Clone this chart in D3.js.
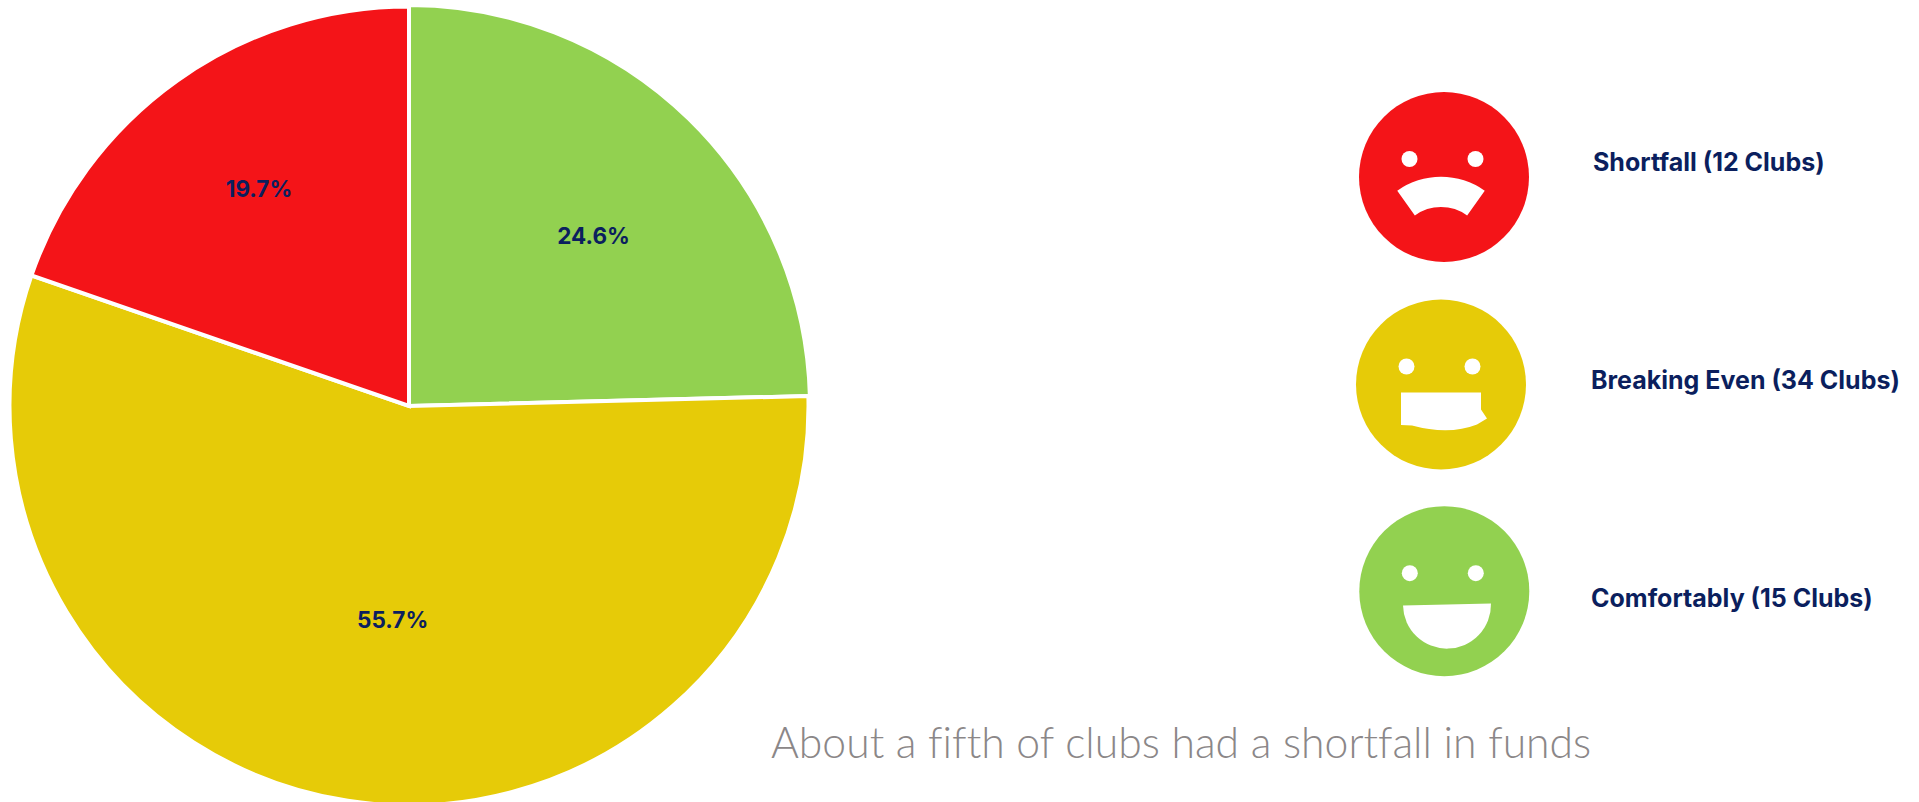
<!DOCTYPE html>
<html>
<head>
<meta charset="utf-8">
<script src="https://cdn.jsdelivr.net/npm/d3@7"></script>
<style>
  html, body { margin: 0; padding: 0; background: #fff; overflow: hidden; }
  svg { display: block; }
  text { font-family: Inter, "Noto Sans", sans-serif; }
</style>
</head>
<body>
<svg id="chart" width="1919" height="802"></svg>
<script>
// Funding status of clubs
const statuses = ["Comfortably", "Breaking Even", "Shortfall"];
const shares = [24.6, 55.7, 19.7];
const clubCounts = [15, 34, 12];
const statusColors = ["#92d150", "#e6cb08", "#f41418"];
const legendOrder = ["Shortfall", "Breaking Even", "Comfortably"];
const headline = "About a fifth of clubs had a shortfall in funds";

const navy = "#0b1f5e";
const svg = d3.select("#chart");

// Pie
const cx = 409, cy = 406;
const sliceRadius = { "Comfortably": 401, "Breaking Even": 399.5, "Shortfall": 399.5 };
const labelNudge = { "Comfortably": [10, 8], "Breaking Even": [22, -34], "Shortfall": [-5, -14] };

const pie = d3.pie().sort(null).value((_, i) => shares[i]);
const arcs = pie(statuses);
const sliceArc = d3.arc().innerRadius(0);
const labelArc = d3.arc().innerRadius(250).outerRadius(250);

const pieGroup = svg.append("g").attr("transform", `translate(${cx},${cy})`);
pieGroup.selectAll("path")
  .data(arcs)
  .join("path")
  .attr("d", d => sliceArc.outerRadius(sliceRadius[d.data])(d))
  .attr("fill", (d, i) => statusColors[i])
  .attr("stroke", "#fff")
  .attr("stroke-width", 4)
  .attr("stroke-linejoin", "miter");

pieGroup.selectAll("text")
  .data(arcs)
  .join("text")
  .attr("transform", d => {
    const [x, y] = labelArc.centroid(d);
    const [dx, dy] = labelNudge[d.data];
    return `translate(${x + dx},${y + dy})`;
  })
  .attr("text-anchor", "middle")
  .attr("dominant-baseline", "central")
  .attr("font-size", 22.5)
  .attr("font-weight", 700)
  .attr("fill", navy)
  .text((d, i) => `${shares[i].toFixed(1)}%`);

// Faces: each mouth is built in face-centred coordinates
const faceLayout = {
  "Shortfall": { x: 1444, y: 177, textX: 1593, textY: 162 },
  "Breaking Even": { x: 1441, y: 384.5, textX: 1591, textY: 380 },
  "Comfortably": { x: 1444.3, y: 591.2, textX: 1591, textY: 597.5 }
};
const eyeShift = -1.5, eyeOffset = 33, eyeRise = 18, eyeRadius = 8;

function mouthPath(status) {
  if (status === "Shortfall") {
    const wedge = 0.62;
    return { d: d3.arc().innerRadius(45).outerRadius(75.3)
      .startAngle(-wedge).endAngle(wedge)(), at: [-3, 75] };
  }
  if (status === "Comfortably") {
    return { d: d3.arc().innerRadius(0).outerRadius(44)
      .startAngle(Math.PI / 2 - 0.02).endAngle(3 * Math.PI / 2 - 0.02)(), at: [2.7, 13.3] };
  }
  // Ragged open mouth of the neutral face
  const p = d3.path();
  p.moveTo(-40, 8);
  p.lineTo(-1, 8);
  p.lineTo(40, 8);
  p.lineTo(40, 25);
  p.lineTo(46, 34);
  p.lineTo(36, 40);
  p.quadraticCurveTo(8, 51, -29, 41);
  p.lineTo(-40, 40.5);
  p.closePath();
  return { d: p.toString(), at: [0, 0] };
}

const faces = svg.selectAll("g.face")
  .data(legendOrder)
  .join("g")
  .attr("class", "face")
  .attr("transform", d => `translate(${faceLayout[d].x},${faceLayout[d].y})`);

faces.append("circle")
  .attr("r", 85)
  .attr("fill", d => statusColors[statuses.indexOf(d)]);

faces.selectAll("circle.eye")
  .data(() => [-1, 1])
  .join("circle")
  .attr("class", "eye")
  .attr("cx", s => eyeShift + s * eyeOffset)
  .attr("cy", -eyeRise)
  .attr("r", eyeRadius)
  .attr("fill", "#fff");

faces.append("path")
  .attr("d", d => mouthPath(d).d)
  .attr("transform", d => `translate(${mouthPath(d).at})`)
  .attr("fill", "#fff");

// Legend text
svg.selectAll("text.legend")
  .data(legendOrder)
  .join("text")
  .attr("class", "legend")
  .attr("x", d => faceLayout[d].textX)
  .attr("y", d => faceLayout[d].textY)
  .attr("dominant-baseline", "central")
  .attr("font-size", 25)
  .attr("font-weight", 700)
  .attr("fill", navy)
  .text(d => `${d} (${clubCounts[statuses.indexOf(d)]} Clubs)`);

// Headline
svg.append("text")
  .attr("x", 771)
  .attr("y", 758)
  .attr("font-size", 42.7)
  .attr("font-weight", 300)
  .style("font-family", "Lato, sans-serif")
  .style("font-variant-ligatures", "none")
  .attr("fill", "#8b8788")
  .text(headline);
</script>
</body>
</html>
